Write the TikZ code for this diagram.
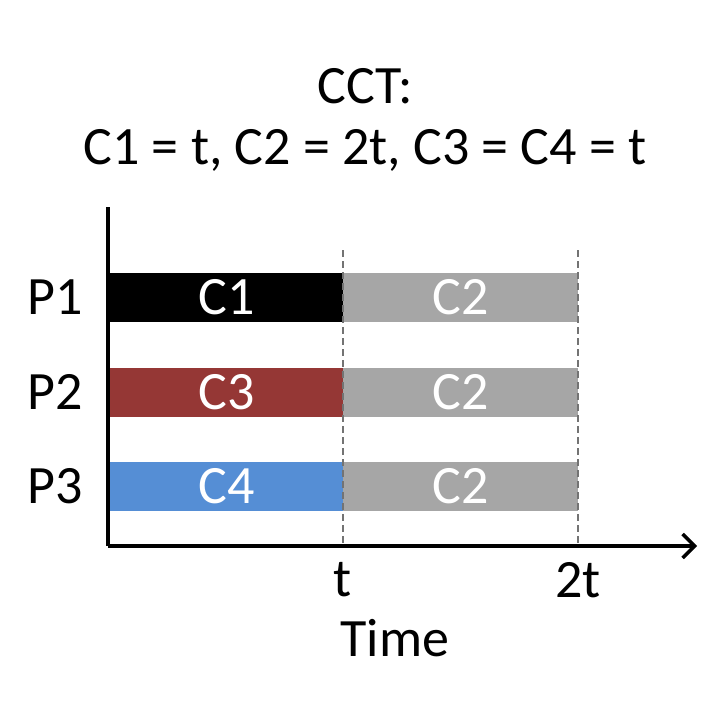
\documentclass[tikz,border=0pt]{standalone}
\usepackage{fontspec}
\setmainfont{Carlito}
\usetikzlibrary{arrows.meta}
\definecolor{cred}{HTML}{953735}
\definecolor{cblue}{HTML}{558ED5}
\definecolor{cgray}{HTML}{A6A6A6}
\begin{document}
\begin{tikzpicture}[x=1pt,y=-1pt,
  txt/.style={font=\fontsize{54}{60}\selectfont, inner sep=0pt},
  bar/.style={minimum height=49pt, inner sep=0pt, text=white, font=\fontsize{54}{60}\selectfont},
  guide/.style={dash pattern=on 7pt off 4pt, gray!90!black, line width=2pt}]
\useasboundingbox (0,0) rectangle (720,706);
\node[txt] (t1) at (365,86) {CCT:};
\node[txt] (t2) at (365,150) {C1 = t, C2 = 2t, C3 = C4 = t};
\foreach \r/\y/\c/\l in {1/297/black/C1, 2/392/cred/C3, 3/486/cblue/C4}{
  \node[bar, fill=\c, minimum width=233pt] (a\r) at (226.5,\y) {\l};
  \node[bar, fill=cgray, minimum width=235pt] (b\r) at (460.5,\y) {C2};
  \node[txt, anchor=east] (p\r) at (83,\y) {P\r};
}
\coordinate (o) at (108,546);
\coordinate (top) at (108,207);
\coordinate (xe) at (697,546);
\coordinate (g1t) at (343,250);
\coordinate (g2t) at (578,250);
\coordinate (g1b) at (343,546);
\coordinate (g2b) at (578,546);
\draw[guide] (g1t) -- (g1b);
\draw[guide] (g2t) -- (g2b);
\draw[line width=3.5pt] (top) -- (o);
\draw[line width=3.5pt, -{Straight Barb[length=12pt,width=24pt]}] (o) -- (xe);
\node[txt] (lt) at (343,580) {t};
\node[txt] (l2t) at (578,580) {2t};
\node[txt] (time) at (395,638) {Time};
\end{tikzpicture}
\end{document}
